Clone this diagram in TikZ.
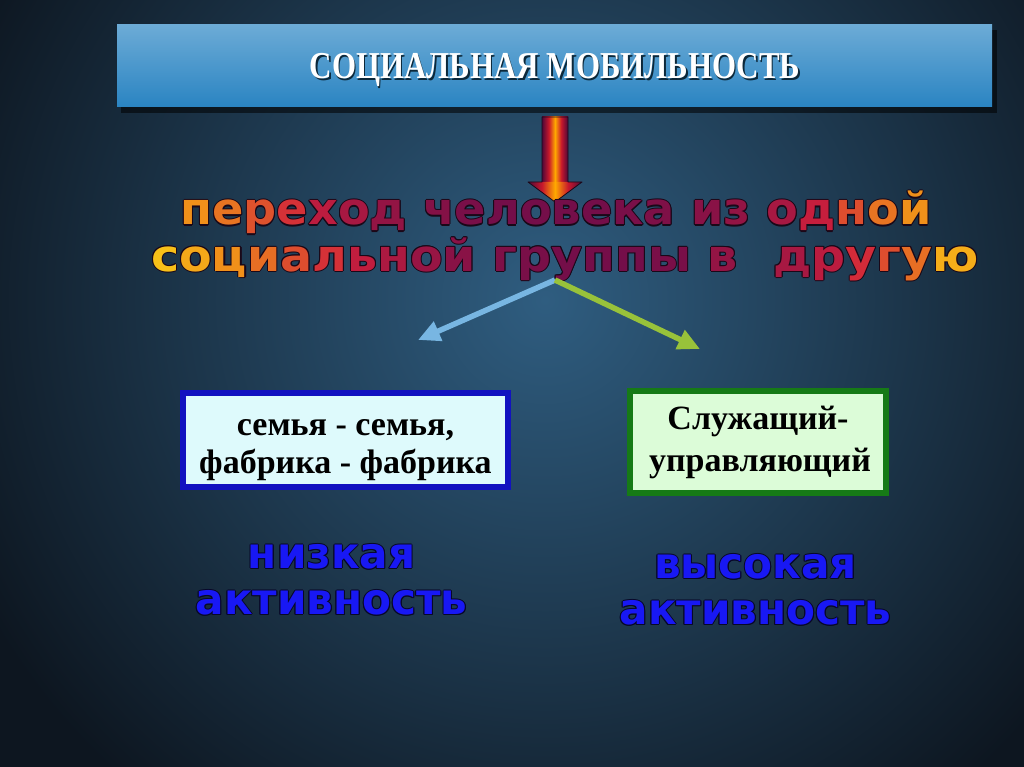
\documentclass[tikz,border=0pt]{standalone}
\usepackage{fontspec}
\usepackage{graphicx}
\setmainfont{Liberation Serif}
\newfontfamily\heavysans{DejaVu Sans}
\usetikzlibrary{arrows.meta}

\definecolor{bgdark}{HTML}{0D1620}
\definecolor{bglight}{HTML}{2F5D80}
\definecolor{titletop}{HTML}{6CABD6}
\definecolor{titlebot}{HTML}{2A84C2}
\definecolor{arrdark}{HTML}{4E0838}
\definecolor{arrred}{HTML}{C8182C}
\definecolor{arrmid}{HTML}{FFA800}
\definecolor{gO}{HTML}{F0901A}
\definecolor{gY}{HTML}{F8C018}
\definecolor{gR}{HTML}{D0203C}
\definecolor{gP}{HTML}{6A0C4A}
\definecolor{outl}{HTML}{1A0818}
\definecolor{arrblue}{HTML}{78B6E2}
\definecolor{arrgreen}{HTML}{98C23A}
\definecolor{boxblue}{HTML}{1212C0}
\definecolor{fillblue}{HTML}{DEFAFC}
\definecolor{boxgreen}{HTML}{167A16}
\definecolor{fillgreen}{HTML}{DCFCD8}
\definecolor{actblue}{HTML}{1818F4}
\definecolor{actoutl}{HTML}{080828}

\pgfdeclarehorizontalshading{redarrow}{100bp}{color(0bp)=(arrdark); color(25bp)=(arrdark); color(38bp)=(arrred); color(50bp)=(arrmid); color(62bp)=(arrred); color(75bp)=(arrdark); color(100bp)=(arrdark)}

\newif\ifplaintext
\newcommand\gy[2]{\ifplaintext#2\else\textcolor{gO!#1!gY}{#2}\fi}
\newcommand\ga[2]{\ifplaintext#2\else\textcolor{gR!#1!gO}{#2}\fi}
\newcommand\gb[2]{\ifplaintext#2\else\textcolor{gP!#1!gR}{#2}\fi}

\newcommand\lineone{\scalebox{1.05}[1]{\ga{0}{п}\ga{25}{е}\ga{55}{р}\ga{85}{е}\gb{20}{х}\gb{40}{о}\gb{60}{д} \gb{75}{ч}\gb{85}{е}\gb{90}{л}\gb{90}{о}\gb{90}{в}\gb{90}{е}\gb{85}{к}\gb{80}{а} \gb{70}{и}\gb{60}{з} \gb{40}{о}\gb{10}{д}\ga{60}{н}\ga{25}{о}\ga{0}{й}}}
\newcommand\linetwo{\scalebox{1.08}[1]{\gy{0}{с}\gy{50}{о}\gy{100}{ц}\ga{30}{и}\ga{60}{а}\ga{85}{л}\gb{15}{ь}\gb{35}{н}\gb{55}{о}\gb{70}{й} \gb{80}{г}\gb{85}{р}\gb{90}{у}\gb{90}{п}\gb{90}{п}\gb{85}{ы} \gb{60}{в}\hspace{0.75em}\gb{40}{д}\gb{20}{р}\ga{90}{у}\ga{60}{г}\ga{30}{у}\gy{40}{ю}}}
\newcommand\lowact{\scalebox{0.98}[1]{низкая}\\\scalebox{0.98}[1]{активность}}
\newcommand\highact{\scalebox{0.98}[1]{высокая}\\\scalebox{0.98}[1]{активность}}

\tikzset{
  orangetxt/.style={font=\heavysans\bfseries\fontsize{44}{48}\selectfont, inner sep=0pt, anchor=base},
  acttxt/.style={font=\heavysans\bfseries\fontsize{43}{46}\selectfont, align=center, inner sep=0pt, anchor=center},
  titletxt/.style={font=\bfseries\fontsize{38}{44}\selectfont, inner sep=0pt, anchor=base},
  boxframe/.style={line width=6pt, inner sep=0pt},
  boxtxt/.style={font=\bfseries\fontsize{34}{38}\selectfont, align=center, inner sep=0pt, anchor=base},
  forkarrow/.style={line width=5.5pt, -{Triangle[length=22pt,width=20pt]}},
}

\begin{document}
\begin{tikzpicture}[x=1pt,y=-1pt]
\useasboundingbox (0,0) rectangle (1024,767);
% background
\fill[bgdark] (0,0) rectangle (1024,767);
\begin{scope}
  \clip (0,0) rectangle (1024,767);
  \shade[inner color=bglight, outer color=bgdark] (545,300) circle (640pt);
\end{scope}

% title bar
\fill[black, opacity=0.55] (121,30) rectangle (997,113);
\shade[top color=titletop, bottom color=titlebot] (117,25) rectangle (992,107);
\node[titletxt, text=black!70!titlebot] (titleshadow) at (556.5,80.5) {\scalebox{0.815}[1]{СОЦИАЛЬНАЯ МОБИЛЬНОСТЬ}};
\node[titletxt, text=white] (title) at (555,79) {\scalebox{0.815}[1]{СОЦИАЛЬНАЯ МОБИЛЬНОСТЬ}};

% red block arrow
\shade[shading=redarrow] (542,117) rectangle (568,183);
\shade[shading=redarrow] (528,182) -- (582,182) -- (555,202) -- cycle;
\draw[outl, line width=0.8pt, line join=round] (542,117) -- (568,117) -- (568,182) -- (582,182) -- (555,202) -- (528,182) -- (542,182) -- cycle;

% orange text with dark outline
\foreach \dx/\dy [count=\i] in {-1/0,1/0,0/-1,0/1,-0.7/-0.7,0.7/0.7,-0.7/0.7,0.7/-0.7}{
  \node[orangetxt, text=outl] (l1o\i) at (556+\dx,225+\dy) {\plaintexttrue\lineone};
  \node[orangetxt, text=outl] (l2o\i) at (565+\dx,271+\dy) {\plaintexttrue\linetwo};
}
\node[orangetxt] (l1) at (556,225) {\lineone};
\node[orangetxt] (l2) at (565,271) {\linetwo};

% fork arrows
\coordinate (fork) at (555,280);
\coordinate (tipL) at (418,340);
\coordinate (tipR) at (700,349);
\draw[forkarrow, arrblue] (fork) -- (tipL);
\draw[forkarrow, arrgreen] (fork) -- (tipR);

% boxes
\node[boxframe, draw=boxblue, fill=fillblue, minimum width=325pt, minimum height=94pt] (boxL) at (345.5,440) {};
\node[boxtxt] (boxL1) at (345.5,435) {семья - семья,};
\node[boxtxt] (boxL2) at (345.5,473) {фабрика - фабрика};
\node[boxframe, draw=boxgreen, fill=fillgreen, minimum width=256pt, minimum height=102pt] (boxR) at (758,442) {};
\node[boxtxt] (boxR1) at (758,429) {Служащий-};
\node[boxtxt] (boxR2) at (760,471) {управляющий};

% activity labels
\foreach \dx/\dy [count=\i] in {-1/0,1/0,0/-1,0/1,-0.7/-0.7,0.7/0.7,-0.7/0.7,0.7/-0.7}{
  \node[acttxt, text=actoutl] (lowo\i) at (331.5+\dx,580+\dy) {\lowact};
  \node[acttxt, text=actoutl] (higho\i) at (755.5+\dx,590+\dy) {\highact};
}
\node[acttxt, text=actblue] (low) at (331.5,580) {\lowact};
\node[acttxt, text=actblue] (high) at (755.5,590) {\highact};
\end{tikzpicture}
\end{document}
